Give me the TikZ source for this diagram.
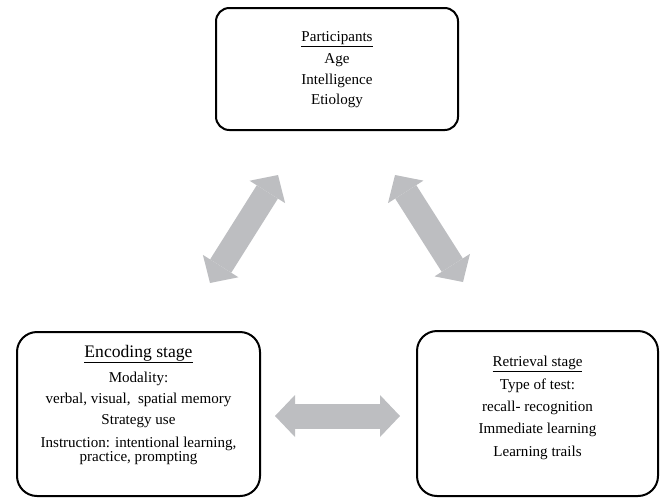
\documentclass[tikz,border=0pt]{standalone}
\usepackage{fontspec}
\setmainfont{Liberation Serif}
\usetikzlibrary{arrows.meta}
\definecolor{arrowgray}{HTML}{BDBEC1}
\begin{document}
\begin{tikzpicture}[x=0.75pt,y=-0.75pt,
  boxa/.style={draw=black, line width=1.5pt, rounded corners=10pt, inner sep=0pt},
  boxb/.style={draw=black, line width=1.5pt, rounded corners=15pt, inner sep=0pt},
  txt/.style={anchor=base, inner sep=0pt, font=\fontsize{11.3}{13}\selectfont},
  ttl/.style={anchor=base, inner sep=0pt, font=\fontsize{13.2}{15}\selectfont},
  bigarrow/.style={draw=arrowgray, line width=18.75pt,
    {Triangle[width=31.5pt,length=15pt,line width=0pt]}-{Triangle[width=31.5pt,length=15pt,line width=0pt]}}]
\useasboundingbox (0,0) rectangle (660,500);

% boxes
\node[boxa, minimum width=181.5pt, minimum height=91.5pt] (part) at (337,69) {};
\node[boxb, minimum width=182.25pt, minimum height=123pt] (enc) at (138.5,414) {};
\node[boxb, minimum width=180.75pt, minimum height=123.75pt] (ret) at (537.5,413.5) {};

% participants text
\node[txt] (p0) at (337,41) {\underline{Participants}};
\node[txt] (p1) at (337,63) {Age};
\node[txt] (p2) at (337,84) {Intelligence};
\node[txt] (p3) at (337,104) {Etiology};

% encoding text
\node[ttl] (e0) at (138.5,357) {\underline{Encoding stage}};
\node[txt] (e1) at (138.5,382) {Modality:};
\node[txt] (e2) at (138.5,403) {verbal, visual,\ \ spatial memory};
\node[txt] (e3) at (138.5,424) {Strategy use};
\node[txt] (e4) at (138.5,447) {Instruction: intentional learning,};
\node[txt] (e5) at (138.5,461) {practice, prompting};

% retrieval text
\node[txt] (r0) at (537.5,366) {\underline{Retrieval stage}};
\node[txt] (r1) at (537.5,389) {Type of test:};
\node[txt] (r2) at (537.5,411) {recall- recognition};
\node[txt] (r3) at (537.5,433) {Immediate learning};
\node[txt] (r4) at (537.5,456) {Learning trails};

% arrow end points
\coordinate (la) at (210,283);
\coordinate (lb) at (278,175);
\coordinate (ra) at (395,175);
\coordinate (rb) at (463,282);
\coordinate (ha) at (275,416);
\coordinate (hb) at (400,416);

\draw[bigarrow] (la) -- (lb);
\draw[bigarrow] (ra) -- (rb);
\draw[bigarrow] (ha) -- (hb);
\end{tikzpicture}
\end{document}
